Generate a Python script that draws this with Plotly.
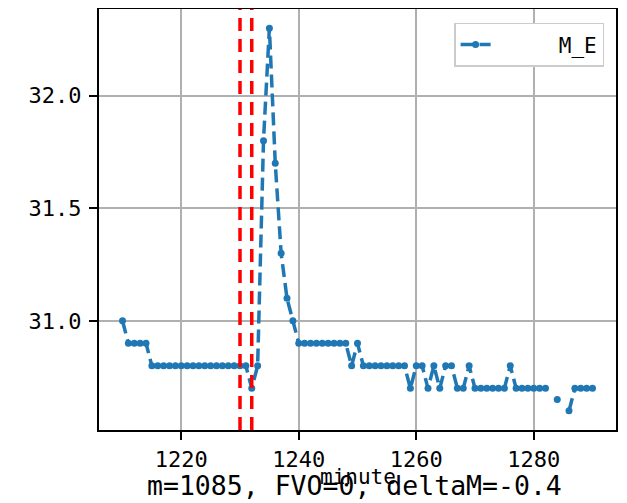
import plotly.graph_objects as go

minutes = [1210, 1211, 1212, 1213, 1214, 1215, 1216, 1217, 1218, 1219,
           1220, 1221, 1222, 1223, 1224, 1225, 1226, 1227, 1228, 1229,
           1230, 1231, 1232, 1233, 1234, 1235, 1236, 1237, 1238, 1239,
           1240, 1241, 1242, 1243, 1244, 1245, 1246, 1247, 1248, 1249,
           1250, 1251, 1252, 1253, 1254, 1255, 1256, 1257, 1258, 1259,
           1260, 1261, 1262, 1263, 1264, 1265, 1266, 1267, 1268, 1269,
           1270, 1271, 1272, 1273, 1274, 1275, 1276, 1277, 1278, 1279,
           1280, 1281, 1282, 1283, 1284, 1285, 1286, 1287, 1288, 1289,
           1290]
m_e = [31.0, 30.9, 30.9, 30.9, 30.9, 30.8, 30.8, 30.8, 30.8, 30.8,
       30.8, 30.8, 30.8, 30.8, 30.8, 30.8, 30.8, 30.8, 30.8, 30.8,
       30.8, 30.8, 30.7, 30.8, 31.8, 32.3, 31.7, 31.3, 31.1, 31.0,
       30.9, 30.9, 30.9, 30.9, 30.9, 30.9, 30.9, 30.9, 30.9, 30.8,
       30.9, 30.8, 30.8, 30.8, 30.8, 30.8, 30.8, 30.8, 30.8, 30.7,
       30.8, 30.8, 30.7, 30.8, 30.7, 30.8, 30.8, 30.7, 30.7, 30.8,
       30.7, 30.7, 30.7, 30.7, 30.7, 30.7, 30.8, 30.7, 30.7, 30.7,
       30.7, 30.7, 30.7, None, 30.65, None, 30.6, 30.7, 30.7, 30.7,
       30.7]
event_minutes = [1230, 1232]
x_ticks = [1220, 1240, 1260, 1280]
y_ticks = [31.0, 31.5, 32.0]
title_text = "m=1085, FVO=0, deltaM=-0.4"
x_label = "minute"
series_name = "M_E"

FONT = "DejaVu Sans Mono"
BLUE = "#1f77b4"

fig = go.Figure()
fig.add_trace(go.Scatter(
    x=minutes, y=m_e, mode="lines+markers", name="     " + series_name,
    line=dict(color=BLUE, width=3.5, dash="13px,6px"),
    marker=dict(color=BLUE, size=7),
    connectgaps=False,
))

for xm in event_minutes:
    fig.add_shape(type="line", xref="x", yref="paper", x0=xm, x1=xm, y0=0, y1=1,
                  line=dict(color="red", width=3.5, dash="13px,8px"), layer="above")

axis_common = dict(
    showgrid=True, gridcolor="#b0b0b0", gridwidth=2,
    showline=True, linecolor="black", linewidth=2, mirror=True,
    ticks="outside", ticklen=8, tickwidth=2, tickcolor="black",
    zeroline=False, automargin=False,
    tickfont=dict(family=FONT, size=22, color="black"),
)

fig.update_xaxes(range=[1206, 1294], tickvals=x_ticks,
                 ticktext=[str(v) for v in x_ticks], ticklabelstandoff=1, **axis_common)
fig.update_yaxes(range=[30.515, 32.385], tickvals=y_ticks,
                 ticktext=["%.1f" % v for v in y_ticks], ticklabelstandoff=3, **axis_common)

fig.add_annotation(text=x_label, xref="paper", yref="paper", x=0.5, y=0,
                   yanchor="middle", yshift=-47, showarrow=False,
                   font=dict(family=FONT, size=21, color="black"))
fig.add_annotation(text=title_text, xref="paper", yref="paper", x=0.495, y=0,
                   yanchor="middle", yshift=-55, showarrow=False,
                   font=dict(family=FONT, size=26.5, color="black"))

# page body has an 8px margin, so the figure is sized/positioned to compensate
fig.update_layout(
    width=619, height=495,
    margin=dict(l=91, r=11, t=1, b=73, autoexpand=False),
    plot_bgcolor="white", paper_bgcolor="white",
    showlegend=True,
    legend=dict(x=0.977, y=0.967, xanchor="right", yanchor="top",
                bgcolor="white", bordercolor="#cccccc", borderwidth=1.5,
                font=dict(family=FONT, size=21, color="black")),
)

fig.write_html("out.html")
